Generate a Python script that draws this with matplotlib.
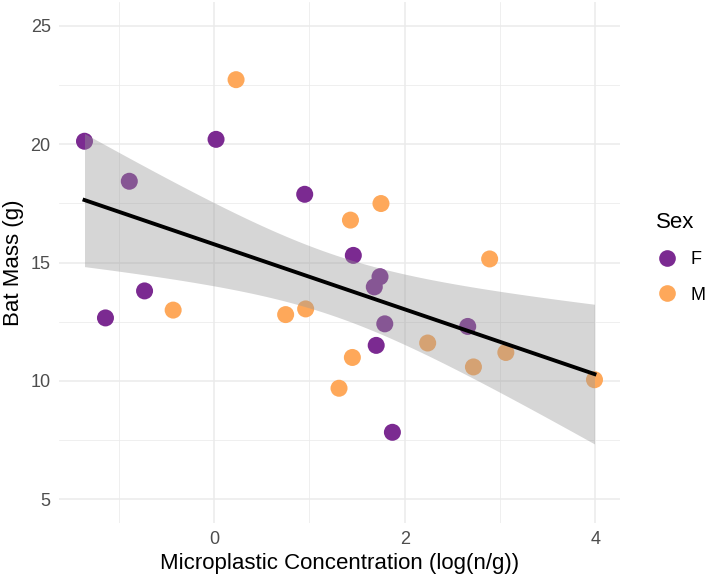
import numpy as np
import matplotlib.pyplot as plt
from matplotlib.lines import Line2D

plt.rcParams['font.family'] = ['Liberation Sans', 'DejaVu Sans']

# Dados
conc_f = [-1.36, -0.89, -1.14, -0.73, 0.02, 0.95, 1.46, 1.74, 1.68, 1.79, 1.70, 1.87, 2.66]
massa_f = [20.12, 18.43, 12.66, 13.80, 20.20, 17.88, 15.30, 14.40, 13.97, 12.41, 11.50, 7.83, 12.30]
conc_m = [0.23, 1.43, 1.75, 2.89, -0.43, 0.75, 0.96, 1.45, 1.31, 2.24, 2.72, 3.06, 3.99]
massa_m = [22.72, 16.79, 17.49, 15.15, 12.99, 12.80, 13.04, 10.99, 9.69, 11.60, 10.59, 11.20, 10.05]

cor_f = '#7b2a91'
cor_m = '#fea85a'

fig = plt.figure(figsize=(7.16, 5.8), dpi=100)
ax = fig.add_axes([59 / 716, 57 / 580, 561 / 716, 521 / 580])

# pontos primeiro (a faixa fica por cima, como no ggplot)
ax.scatter(conc_f, massa_f, s=150, color=cor_f, edgecolors='none', zorder=2)
ax.scatter(conc_m, massa_m, s=150, color=cor_m, edgecolors='none', zorder=2)

# regressão linear com IC 95%
x = np.array(conc_f + conc_m)
y = np.array(massa_f + massa_m)
n = len(x)
b, a = np.polyfit(x, y, 1)
xs = np.linspace(x.min(), x.max(), 80)
ys = a + b * xs
resid = y - (a + b * x)
s = np.sqrt(np.sum(resid ** 2) / (n - 2))
t = 2.069  # t(0.975, 23)
se = s * np.sqrt(1 / n + (xs - x.mean()) ** 2 / np.sum((x - x.mean()) ** 2))
ax.fill_between(xs, ys - t * se, ys + t * se, color='#999999', alpha=0.4,
                linewidth=0, zorder=3)
ax.plot(xs, ys, color='black', linewidth=2.8, zorder=4)

# eixos
pad = 0.05 * (x.max() - x.min())
ax.set_xlim(x.min() - pad, x.max() + pad)
ax.set_ylim(4, 26)
ax.set_xticks([0, 2, 4])
ax.set_xticks([-1, 1, 3], minor=True)
ax.set_yticks([5, 10, 15, 20, 25])
ax.set_yticks([7.5, 12.5, 17.5, 22.5], minor=True)
ax.grid(which='major', color='#ebebeb', linewidth=1.1, zorder=0)
ax.grid(which='minor', color='#ebebeb', linewidth=0.55, zorder=0)
ax.set_axisbelow(True)
for sp in ax.spines.values():
    sp.set_visible(False)
ax.tick_params(which='both', length=0, labelsize=13, labelcolor='#4d4d4d', pad=6)
ax.set_xlabel('Microplastic Concentration (log(n/g))', fontsize=16, labelpad=3)
ax.set_ylabel('Bat Mass (g)', fontsize=16, labelpad=5)

# legenda
handles = [Line2D([], [], marker='o', linestyle='none', markersize=12,
                  markerfacecolor=cor_f, markeredgecolor='none', label='F'),
           Line2D([], [], marker='o', linestyle='none', markersize=12,
                  markerfacecolor=cor_m, markeredgecolor='none', label='M')]
leg = fig.legend(handles=handles, title='Sex', loc='center left',
                 bbox_to_anchor=(640 / 716, 1 - 258 / 580), frameon=False,
                 fontsize=13, title_fontsize=16, handletextpad=0.7,
                 labelspacing=1.0, handlelength=1.2)
leg._legend_box.align = 'left'

plt.savefig('out.png', dpi=100)
